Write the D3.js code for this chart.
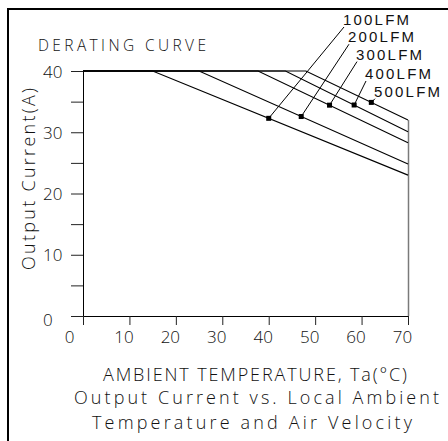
<!DOCTYPE html>
<html>
<head>
<meta charset="utf-8">
<script src="https://cdn.jsdelivr.net/npm/d3@7"></script>
<style>
  html, body { margin: 0; padding: 0; background: #fff; }
  svg { display: block; }
  text { font-family: "Open Sans", "DejaVu Sans", sans-serif; font-weight: 300; fill: #111; }
  text.callout { font-family: "Liberation Sans", "DejaVu Sans", sans-serif; font-weight: 400; }
</style>
</head>
<body>
<svg id="chart" width="448" height="441"></svg>
<script>
// ---- data -------------------------------------------------------------
const airflow      = ["100LFM", "200LFM", "300LFM", "400LFM", "500LFM"];
const ratedCurrent = 40;                         // A, flat region
const kneeTemp     = [15, 25, 37.7, 43.6, 48];   // °C where derating starts
const maxTemp      = 70;                         // °C, end of curves
const currentAtMax = [23, 24.8, 28.3, 30.1, 32]; // A at 70 °C
const markerTemp   = [40, 47, 53.1, 58.4, 62.1]; // °C of the callout dots
const xTickValues  = [0, 10, 20, 30, 40, 50, 60, 70];
const yTickValues  = [0, 5, 10, 15, 20, 25, 30, 35, 40];
const yLabelValues = [0, 10, 20, 30, 40];

// ---- layout -----------------------------------------------------------
const W = 448, H = 441;
// callout label placement: [x of text start, baseline y]
const calloutLayout = [[343, 25], [348, 42.2], [356, 59.6], [365, 79], [374, 96.7]];

const svg = d3.select("#chart");

const x = d3.scaleLinear().domain([0, 70]).range([83, 408]);
const y = d3.scaleLinear().domain([0, 40]).range([316, 71]);

// outer frame (left and top edges)
svg.append("path")
  .attr("d", `M8,${H} V9 H${W}`)
  .attr("fill", "none").attr("stroke", "#000").attr("stroke-width", 2);

// title
svg.append("text")
  .attr("x", 38).attr("y", 51)
  .attr("font-size", 15.5)
  .attr("textLength", 168).attr("lengthAdjust", "spacing")
  .text("DERATING CURVE");

// right closing edge of the plot at 70 °C
svg.append("line")
  .attr("x1", x(maxTemp) + 0.5).attr("x2", x(maxTemp) + 0.5)
  .attr("y1", y(d3.max(currentAtMax))).attr("y2", y(0))
  .attr("stroke", "#7a7a7a").attr("stroke-width", 1.5);

// y axis
const yAxis = d3.axisLeft(y)
  .tickValues(yTickValues)
  .tickSize(12).tickSizeOuter(0)
  .tickFormat(d => yLabelValues.includes(d) ? d : "");
const gy = svg.append("g").attr("transform", `translate(${x(0)},0)`).call(yAxis);
gy.selectAll("line").attr("stroke", "#222");
gy.select(".domain").attr("stroke", "#000");
gy.selectAll("text")
  .attr("x", -40).attr("text-anchor", "start")
  .attr("dy", d => d === 0 ? "0.55em" : "0.36em")
  .attr("font-size", 17).attr("fill", "#111");
gy.attr("font-family", null).attr("font-size", null);

// x axis
const xAxis = d3.axisBottom(x)
  .tickValues(xTickValues)
  .tickSize(9).tickSizeOuter(0);
const gx = svg.append("g").attr("transform", `translate(0,${y(0)})`).call(xAxis);
gx.selectAll("line").attr("stroke", "#222");
gx.select(".domain").attr("stroke", "#000");
gx.selectAll("text")
  .attr("y", 27).attr("dy", null)
  .attr("x", d => d === 0 ? -14 : -6)
  .attr("font-size", 17).attr("fill", "#111");
gx.attr("font-family", null).attr("font-size", null);

// derating curves
const series = airflow.map((name, i) => ({
  name,
  points: [[0, ratedCurrent], [kneeTemp[i], ratedCurrent], [maxTemp, currentAtMax[i]]]
}));
const line = d3.line().x(d => x(d[0])).y(d => y(d[1]));
svg.append("g").selectAll("path").data(series).join("path")
  .attr("d", d => line(d.points))
  .attr("fill", "none").attr("stroke", "#000").attr("stroke-width", 1.1);

// current on a curve at a given temperature
function currentAt(s, t) {
  const p = s.points;
  for (let k = 1; k < p.length; k++) {
    if (t <= p[k][0]) {
      const f = (t - p[k - 1][0]) / (p[k][0] - p[k - 1][0]);
      return p[k - 1][1] + f * (p[k][1] - p[k - 1][1]);
    }
  }
  return p[p.length - 1][1];
}

// callouts: dot on the curve, leader line, label
const callouts = series.map((s, i) => ({
  name: s.name,
  px: x(markerTemp[i]),
  py: y(currentAt(s, markerTemp[i])),
  lx: calloutLayout[i][0],
  ly: calloutLayout[i][1]
}));
const gc = svg.append("g");
gc.selectAll("line").data(callouts).join("line")
  .attr("x1", d => d.px).attr("y1", d => d.py)
  .attr("x2", d => d.lx + 1).attr("y2", d => d.ly + 2)
  .attr("stroke", "#000").attr("stroke-width", 1);
gc.selectAll("rect").data(callouts).join("rect")
  .attr("x", d => d.px - 2.5).attr("y", d => d.py - 2.5)
  .attr("width", 5).attr("height", 5).attr("fill", "#000");
gc.selectAll("text").data(callouts).join("text")
  .attr("class", "callout")
  .attr("x", d => d.lx).attr("y", d => d.ly)
  .attr("font-size", 15)
  .attr("textLength", 66).attr("lengthAdjust", "spacing")
  .text(d => d.name);

// y axis title
svg.append("text")
  .attr("transform", "translate(35,179) rotate(-90)")
  .attr("text-anchor", "middle")
  .attr("font-size", 18)
  .attr("textLength", 182).attr("lengthAdjust", "spacing")
  .text("Output Current(A)");

// x axis title and caption
const captions = [
  { text: "AMBIENT TEMPERATURE, Ta(°C)", x: 103, y: 381, len: 304 },
  { text: "Output Current vs. Local Ambient", x: 74, y: 404, len: 365 },
  { text: "Temperature and Air Velocity", x: 92, y: 429, len: 320 }
];
svg.append("g").selectAll("text").data(captions).join("text")
  .attr("x", d => d.x).attr("y", d => d.y)
  .attr("font-size", 18)
  .attr("textLength", d => d.len).attr("lengthAdjust", "spacing")
  .text(d => d.text);
</script>
</body>
</html>
